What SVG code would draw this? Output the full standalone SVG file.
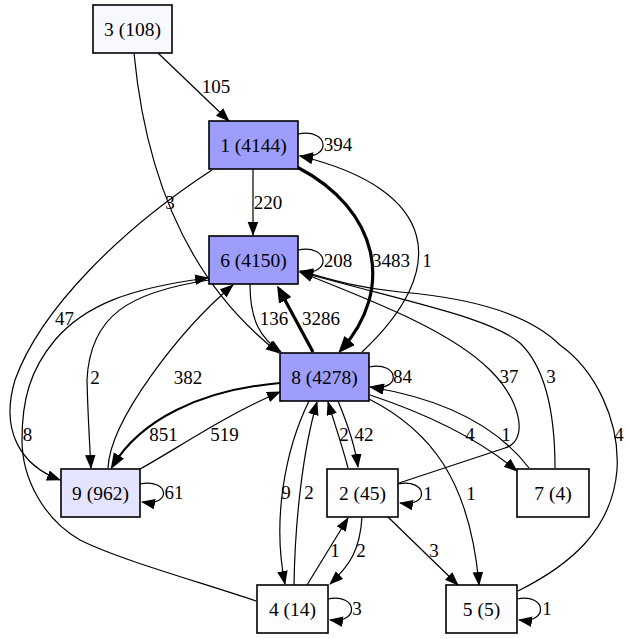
<svg xmlns="http://www.w3.org/2000/svg" width="630" height="639" viewBox="0 0 630 639">
<defs>
<style>
.n rect{stroke:#000;stroke-width:1.6}
.n text,.l text{font-family:"Liberation Serif","Times New Roman",serif;font-size:19px;fill:#000;text-anchor:middle}
.n text{font-size:19.5px}
.e path{fill:none;stroke:#000;stroke-width:1.2}
.e path.a{marker-end:url(#a)}
.e path.m{stroke-width:2;marker-end:url(#m)}
.e path.t{stroke-width:3.2;marker-end:url(#t)}
.hi{fill:#9d9dfc}.lo{fill:#e4e4ff}.wh{fill:#fdfdff}.w3{fill:#f8f8ff}
</style>
<marker id="a" markerWidth="15" markerHeight="12" refX="13" refY="5.3" orient="auto" markerUnits="userSpaceOnUse"><path d="M0,0 L14,5.3 L0,10.6 z" fill="#000"/></marker>
<marker id="m" markerWidth="17" markerHeight="13" refX="13.5" refY="6" orient="auto" markerUnits="userSpaceOnUse"><path d="M0,0 L16,6 L0,12 z" fill="#000"/></marker>
<marker id="t" markerWidth="19" markerHeight="15" refX="13" refY="7" orient="auto" markerUnits="userSpaceOnUse"><path d="M0,0 L17,7 L0,14 z" fill="#000"/></marker>
</defs>
<rect width="630" height="639" fill="#fff"/>
<g id="edges" class="e">
<path class="a" d="M158,53 L229,121"/>
<path class="a" d="M134,53 C145,170 185,280 279,353"/>
<path class="a" d="M298,134 C330,128 332,160 300,156"/>
<path class="a" d="M253,169 L253,235"/>
<path class="t" d="M297,167 C380,210 395,290 341,350"/>
<path class="a" d="M362,352 C450,270 440,190 300,156"/>
<path class="a" d="M212,170 C120,230 40,310 15,380 C0,430 20,465 60,480"/>
<path class="a" d="M298,250 C330,244 332,276 300,272"/>
<path class="a" d="M250,284 C250,320 260,338 281,352"/>
<path class="t" d="M313,352 L279,289"/>
<path class="a" d="M209,280 C130,292 90,315 87,380 C88,420 90,450 91,468"/>
<path class="a" d="M108,468 C110,420 180,330 233,285"/>
<path class="a" d="M256,601 C200,582 120,560 80,540 C45,520 22,480 22,440 C22,400 30,370 55,340 C85,305 130,288 208,278"/>
<path class="a" d="M369,367 C400,361 402,392 371,387"/>
<path class="m" d="M280,383 C200,390 140,420 112,467"/>
<path class="a" d="M140,469 C175,450 225,415 280,392"/>
<path class="a" d="M140,484 C170,478 172,507 142,502"/>
<path class="a" d="M338,401 C348,425 355,445 358,467"/>
<path class="a" d="M348,468 C342,445 335,425 328,402"/>
<path class="a" d="M309,401 C285,450 272,520 285,584"/>
<path class="a" d="M294,585 C295,520 303,450 317,402"/>
<path class="a" d="M398,484 C428,478 430,508 400,503"/>
<path class="a" d="M370,395 C430,415 480,440 517,471"/>
<path class="a" d="M529,468 C500,430 450,400 370,387"/>
<path class="a" d="M369,399 C430,430 470,480 479,585"/>
<path class="a" d="M399,483 L505,448 C530,440 520,400 490,370 C450,330 370,300 300,272"/>
<path class="a" d="M555,468 C555,420 548,370 520,343 C490,318 420,305 300,272"/>
<path class="a" d="M518,591 C570,565 612,530 617,470 C620,420 595,370 560,345 C525,310 460,297 400,292 C350,287 320,276 300,271"/>
<path class="a" d="M362,517 C360,550 350,565 330,584"/>
<path class="a" d="M307,585 L348,518"/>
<path class="a" d="M388,517 L458,585"/>
<path class="a" d="M328,599 C358,593 360,624 330,620"/>
<path class="a" d="M517,599 C547,593 549,624 519,620"/>
</g>
<g id="labels" class="l">
<text x="216" y="92.5">105</text>
<text x="170" y="208.5">3</text>
<text x="338" y="150.5">394</text>
<text x="268" y="208.5">220</text>
<text x="391" y="266.5">3483</text>
<text x="427" y="266.5">1</text>
<text x="64.5" y="324.5">47</text>
<text x="338" y="266.5">208</text>
<text x="274" y="324.5">136</text>
<text x="321" y="324.5">3286</text>
<text x="95" y="383.5">2</text>
<text x="188" y="383.5">382</text>
<text x="27.5" y="440.5">8</text>
<text x="402.5" y="382.5">84</text>
<text x="163.5" y="440.5">851</text>
<text x="224.5" y="440.5">519</text>
<text x="174" y="498.5">61</text>
<text x="364" y="440.5">42</text>
<text x="344" y="440.5">2</text>
<text x="286" y="498.5">9</text>
<text x="309" y="498.5">2</text>
<text x="428" y="499.5">1</text>
<text x="470" y="440.5">4</text>
<text x="506" y="440.5">1</text>
<text x="471" y="499.5">1</text>
<text x="509" y="382.5">37</text>
<text x="551" y="382.5">3</text>
<text x="619" y="440.5">4</text>
<text x="361" y="556.5">2</text>
<text x="335" y="556.5">1</text>
<text x="434" y="556.5">3</text>
<text x="357" y="614.5">3</text>
<text x="547" y="614.5">1</text>
</g>
<g id="n3" class="n"><rect class="w3" x="93" y="5" width="79" height="48"/><text x="132.5" y="35.5">3 (108)</text></g>
<g id="n1" class="n"><rect class="hi" x="209" y="121" width="89" height="48"/><text x="253.5" y="151.5">1 (4144)</text></g>
<g id="n6" class="n"><rect class="hi" x="209" y="236" width="89" height="48"/><text x="253.5" y="266.5">6 (4150)</text></g>
<g id="n8" class="n"><rect class="hi" x="280" y="353" width="89" height="48"/><text x="324.5" y="383.5">8 (4278)</text></g>
<g id="n9" class="n"><rect class="lo" x="61" y="469" width="79" height="48"/><text x="100.5" y="499.5">9 (962)</text></g>
<g id="n2" class="n"><rect class="wh" x="327" y="469" width="71" height="48"/><text x="362.5" y="499.5">2 (45)</text></g>
<g id="n7" class="n"><rect class="wh" x="517" y="469" width="72" height="48"/><text x="553" y="499.5">7 (4)</text></g>
<g id="n4" class="n"><rect class="wh" x="257" y="585" width="71" height="48"/><text x="292.5" y="615.5">4 (14)</text></g>
<g id="n5" class="n"><rect class="wh" x="446" y="585" width="71" height="48"/><text x="481.5" y="615.5">5 (5)</text></g>
</svg>
